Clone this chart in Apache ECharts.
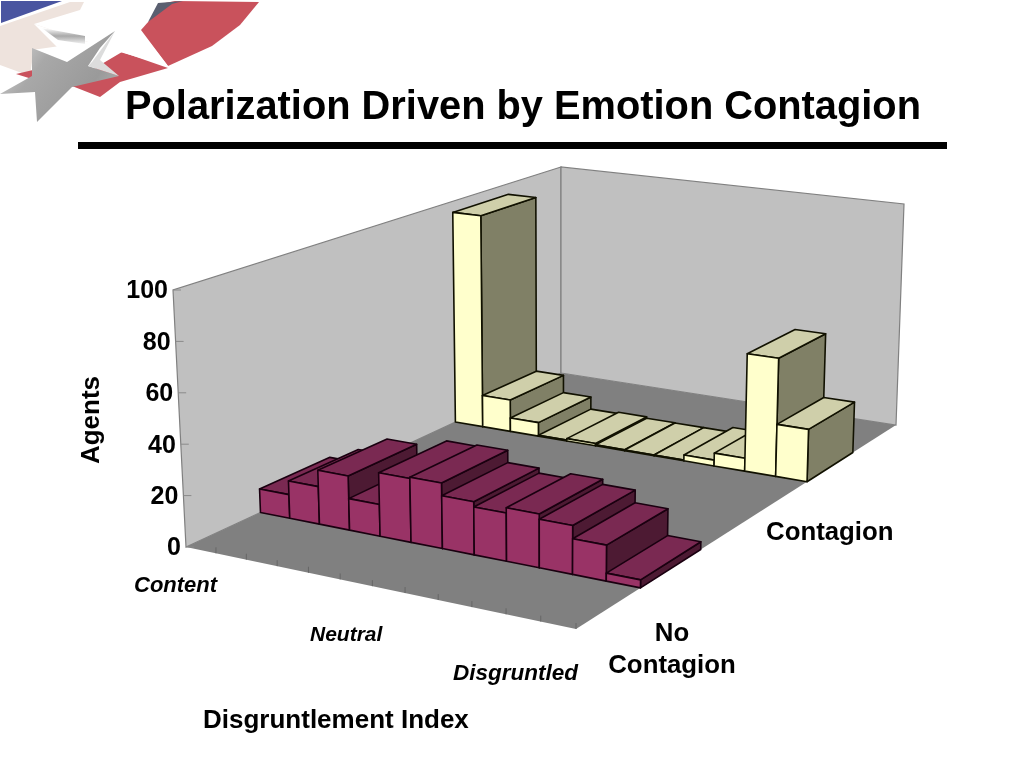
<!DOCTYPE html>
<html><head><meta charset="utf-8">
<style>html,body{margin:0;padding:0;background:#fff}#c{width:1024px;height:768px}</style>
<script src="https://cdn.jsdelivr.net/npm/echarts@6/dist/echarts.min.js"></script>
</head><body><div id="c"></div>
<script>
var categories = ['1','2','3','4','5','6','7','8','9','10','11','12'];
var noContagion = [9.5, 15, 21.5, 12.5, 25, 25.5, 20.5, 18.5, 20.5, 18.5, 13.5, 3];
var contagion = [95, 14, 6, 0.4, 1, 0.4, 0.3, 0.3, 2.5, 5.5, 50, 22];
var valueTicks = [0, 20, 40, 60, 80, 100];
var titleText = 'Polarization Driven by Emotion Contagion';

// Perspective box: floor corners and wall-top corners (front-left, front-right, back-right, back-left)
function homography(p) {
  var dx1 = p[1][0]-p[2][0], dx2 = p[3][0]-p[2][0], sx = p[0][0]-p[1][0]+p[2][0]-p[3][0];
  var dy1 = p[1][1]-p[2][1], dy2 = p[3][1]-p[2][1], sy = p[0][1]-p[1][1]+p[2][1]-p[3][1];
  var den = dx1*dy2-dx2*dy1, g = (sx*dy2-dx2*sy)/den, h = (dx1*sy-sx*dy1)/den;
  return function (u, v) {
    var w = 1+g*u+h*v;
    return [(p[1][0]-p[0][0]+g*p[1][0])*u/w + (p[3][0]-p[0][0]+h*p[3][0])*v/w + p[0][0]/w,
            (p[1][1]-p[0][1]+g*p[1][1])*u/w + (p[3][1]-p[0][1]+h*p[3][1])*v/w + p[0][1]/w];
  };
}
var floorH = homography([[186,547],[576,629],[896,425],[561,373]]);
var topH = homography([[173,290],[577,349],[904,204],[561,167]]);
function project(u, v, h) {
  var a = floorH(u, v), b = topH(u, v);
  return [a[0]+(b[0]-a[0])*h, a[1]+(b[1]-a[1])*h];
}
var GRID = {left:186, top:290, width:390, height:257};
function toU(px) { return (px-GRID.left)/GRID.width; }
function toH(py) { return (GRID.top+GRID.height-py)/GRID.height; }

function barRenderer(v0, v1, front, top, side, edge) {
  return function (params, api) {
    var p = api.coord([api.value(0), api.value(1)]);
    var band = api.size([1,0])[0];
    var u0 = toU(p[0]-band/2), u1 = toU(p[0]+band/2), h = toH(p[1]);
    function poly(pts, fill) {
      return {type:'polygon', shape:{points:pts}, style:{fill:fill, stroke:edge, lineWidth:1.6, lineJoin:'round'}};
    }
    return {type:'group', children:[
      poly([project(u1,v0,0),project(u1,v1,0),project(u1,v1,h),project(u1,v0,h)], side),
      poly([project(u0,v0,h),project(u1,v0,h),project(u1,v1,h),project(u0,v1,h)], top),
      poly([project(u0,v0,0),project(u1,v0,0),project(u1,v0,h),project(u0,v0,h)], front)
    ]};
  };
}
function boxRenderer() {
  var s = {stroke:'#808080', lineWidth:1.2};
  function poly(pts, fill, st) {
    return {type:'polygon', shape:{points:pts}, style:{fill:fill, stroke:st?st.stroke:null, lineWidth:st?st.lineWidth:0}};
  }
  return {type:'group', children:[
    poly([project(0,0,0),project(1,0,0),project(1,1,0),project(0,1,0)], '#808080'),
    poly([project(0,0,0),project(0,1,0),project(0,1,1),project(0,0,1)], '#c0c0c0', s),
    poly([project(0,1,0),project(1,1,0),project(1,1,1),project(0,1,1)], '#c0c0c0', s)
  ]};
}
function valueTickRenderer(params, api) {
  var y = api.coord([0, api.value(0)])[1], h = toH(y), p = project(0,0,h);
  return {type:'group', children:[
    {type:'line', shape:{x1:p[0],y1:p[1],x2:p[0]+8,y2:p[1]}, style:{stroke:'#8a8a8a', lineWidth:1}},
    {type:'text', style:{text:String(api.value(0)), x:p[0]-5, y:p[1]+1.5, align:'right', verticalAlign:'middle',
      font:'bold 25px "Liberation Sans"', fill:'#000'}}
  ]};
}
function catTickRenderer(params, api) {
  var p = api.coord([api.value(0), 0]), band = api.size([1,0])[0];
  var q = project(toU(p[0]+band/2), 0, 0);
  return {type:'line', shape:{x1:q[0],y1:q[1]-6,x2:q[0],y2:q[1]}, style:{stroke:'#666', lineWidth:1}};
}
function t(text, x, y, font, align) {
  return {type:'text', z:10, style:{text:text, x:x, y:y, font:font, fill:'#000', textAlign:align||'left', textVerticalAlign:'middle'}};
}
var chart = echarts.init(document.getElementById('c'), null, {renderer:'canvas'});
chart.setOption({
  animation:false,
  backgroundColor:'#fff',
  grid:GRID,
  xAxis:{type:'category', data:categories, show:false},
  yAxis:{type:'value', min:0, max:100, interval:20, show:false},
  graphic:[
    {type:'polygon', z:1, shape:{points:[[1,1],[62,1],[1,23]]}, style:{fill:'#4a55a0'}},
    {type:'polygon', z:1, shape:{points:[[0,26],[70,2],[84,2],[80,10],[34,24],[88,42],[32,50],[32,62],[30,76],[0,65]]}, style:{fill:'#eee3dd'}},
    {type:'polygon', z:1, shape:{points:[[165,3],[175,1],[259,2],[240,25],[212,46],[168,66],[141,30]]}, style:{fill:'#c9525c'}},
    {type:'polygon', z:1, shape:{points:[[158,3],[183,1],[172,4],[148,22]]}, style:{fill:'#5a5f70'}},
    {type:'polygon', z:1, shape:{points:[[16,74],[33,70],[32,79]]}, style:{fill:'#c9525c'}},
    {type:'polygon', z:1, shape:{points:[[122,52],[168,68],[120,82],[100,97],[72,86],[100,65]]}, style:{fill:'#c9525c'}},
    {type:'polygon', z:1, shape:{points:[[34,24],[88,42],[100,40],[115,30],[140,30],[168,66],[120,52],[90,65],[60,50]]}, style:{fill:'#fff'}},
    {type:'polygon', z:1, shape:{points:[[42,28],[85,36],[85,44],[58,40]]}, style:{fill:new echarts.graphic.LinearGradient(0,0,0,1,[{offset:0,color:'#ffffff'},{offset:0.5,color:'#a9a9a9'},{offset:1,color:'#f2f2f2'}])}},
    {type:'polygon', z:2, shape:{points:[[115,31],[100,48],[88,66],[119,76],[72,87],[37,122],[35,92],[0,94],[32,76],[32,48],[67,62]]},
      style:{fill:new echarts.graphic.LinearGradient(0,0,1,1,[{offset:0,color:'#e4e4e4'},{offset:0.35,color:'#a8a8a8'},{offset:0.7,color:'#9a9a9a'},{offset:1,color:'#bdbdbd'}])}},
    {type:'polygon', z:2, shape:{points:[[92,62],[115,31],[100,60],[119,76],[88,66]]}, style:{fill:'#dcdcdc'}},
    {type:'rect', z:5, shape:{x:78,y:142,width:869,height:7}, style:{fill:'#000'}},
    t(titleText, 125, 108, 'bold 39.8px "Liberation Sans"'),
    {type:'text', z:10, x:92, y:420, rotation:Math.PI/2, style:{text:'Agents', x:0, y:0, font:'bold 26px "Liberation Sans"', fill:'#000', textAlign:'center', textVerticalAlign:'middle'}},
    t('Content', 134, 586, 'italic bold 22px "Liberation Sans"'),
    t('Neutral', 310, 635, 'italic bold 21px "Liberation Sans"'),
    t('Disgruntled', 453, 674, 'italic bold 22.5px "Liberation Sans"'),
    t('Disgruntlement Index', 203, 721, 'bold 26px "Liberation Sans"'),
    t('Contagion', 766, 533, 'bold 25.8px "Liberation Sans"'),
    t('No', 672, 634, 'bold 25.8px "Liberation Sans"', 'center'),
    t('Contagion', 672, 666, 'bold 25.8px "Liberation Sans"', 'center')
  ],
  series:[
    {type:'custom', name:'box', silent:true, clip:false, z:3, data:[[0,0]], renderItem:boxRenderer},
    {type:'custom', name:'valueTicks', silent:true, clip:false, z:3, data:valueTicks.map(function(v){return [v];}), encode:{y:0}, renderItem:valueTickRenderer},
    {type:'custom', name:'catTicks', silent:true, clip:false, z:3, data:categories.map(function(c,i){return [i];}), encode:{x:0}, renderItem:catTickRenderer},
    {type:'custom', name:'Contagion', silent:true, clip:false, z:4, data:contagion.map(function(v,i){return [i,v];}), encode:{x:0,y:1},
      renderItem:barRenderer(0.672,0.835,'#ffffcc','#cfcfaa','#808066','#111100')},
    {type:'custom', name:'No Contagion', silent:true, clip:false, z:5, data:noContagion.map(function(v,i){return [i,v];}), encode:{x:0,y:1},
      renderItem:barRenderer(0.166,0.335,'#993366','#7a2952','#4d1a33','#1a0010')}
  ]
});
</script></body></html>
